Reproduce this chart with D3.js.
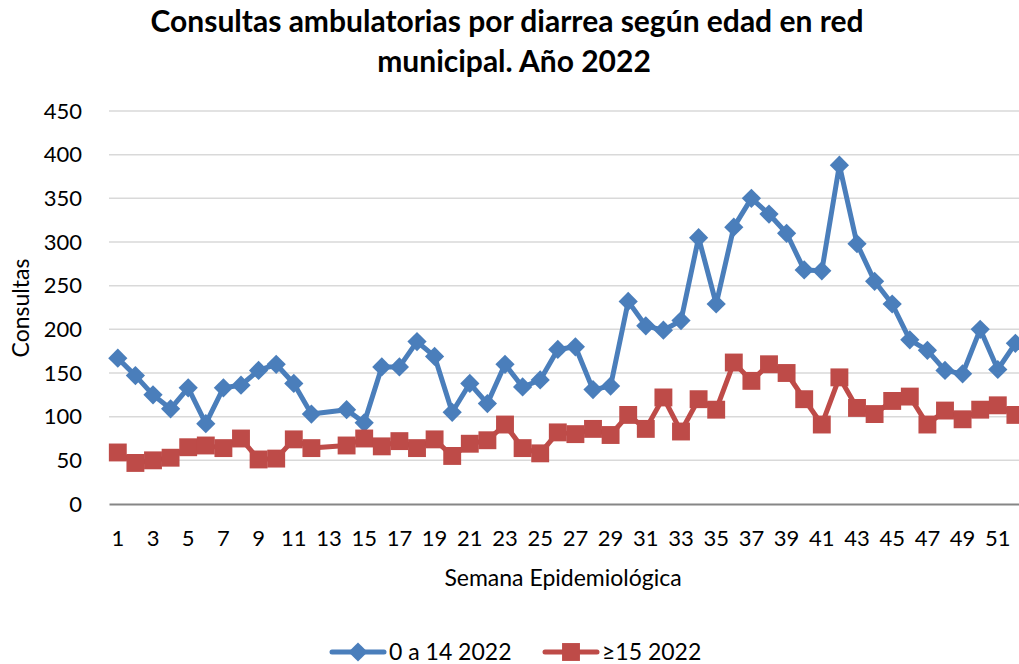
<!DOCTYPE html>
<html>
<head>
<meta charset="utf-8">
<script src="https://cdn.jsdelivr.net/npm/d3@7"></script>
<style>
  body { margin: 0; background: #fff; }
  svg { display: block; font-family: "Lato", "Open Sans", sans-serif; }
</style>
</head>
<body>
<script>
// semanas 1..52, semana 13 sin dato (la linea la salta)
var weeks = d3.range(1, 53);
var tickWeeks = weeks.filter(function (w) { return w % 2 === 1; });
var yTicks = d3.range(0, 451, 50);

var ninos = [167, 147, 125, 109, 133, 92, 133, 136, 153, 160, 138, 103, null, 108, 93, 157,
  157, 186, 169, 105, 138, 115, 160, 134, 142, 177, 180, 131, 135, 232, 204, 199, 210,
  305, 229, 317, 350, 332, 310, 268, 267, 388, 298, 255, 229, 188, 176, 153, 149, 200, 154, 184];
var adultos = [59, 47, 50, 53, 65, 67, 64, 75, 51, 52, 74, 64, null, 67, 75, 66,
  72, 64, 74, 55, 69, 73, 91, 64, 58, 82, 80, 86, 79, 102, 86, 122, 83,
  120, 108, 162, 141, 160, 150, 120, 91, 145, 110, 103, 118, 123, 91, 107, 97, 108, 113, 102];

var seriesNames = ["0 a 14 2022", "\u226515 2022"];
var colors = ["#4a7ebb", "#be4b48"];

var width = 1019;
var height = 664;
var margin = { left: 109, top: 111, bottom: 160 };
var step = 17.6;

var svg = d3.select("body").append("svg")
    .attr("width", width)
    .attr("height", height);

var x = d3.scaleBand()
    .domain(weeks)
    .range([margin.left, margin.left + step * weeks.length]);

var y = d3.scaleLinear()
    .domain([0, 450])
    .range([504, margin.top]);

// titulo
var title = svg.append("text")
    .attr("text-anchor", "middle")
    .attr("font-weight", "bold")
    .attr("font-size", 30)
    .attr("fill", "#000");
title.append("tspan").attr("x", 507).attr("y", 32)
    .text("Consultas ambulatorias por diarrea según edad en red");
title.append("tspan").attr("x", 514).attr("y", 72)
    .text("municipal. Año 2022");

// grilla
svg.append("g").selectAll("line")
    .data(yTicks.filter(function (d) { return d > 0; }))
    .enter().append("line")
    .attr("x1", margin.left)
    .attr("x2", width)
    .attr("y1", function (d) { return y(d); })
    .attr("y2", function (d) { return y(d); })
    .attr("stroke", "#d9d9d9")
    .attr("stroke-width", 1.5);

// eje y
var yAxis = svg.append("g")
    .attr("transform", `translate(${margin.left} 0)`)
    .call(d3.axisLeft(y).tickValues(yTicks).tickSize(0).tickPadding(27));
yAxis.select(".domain").remove();
yAxis.selectAll("text")
    .attr("font-size", 22)
    .attr("font-family", "Lato, sans-serif")
    .attr("fill", "#000");

// eje x
var xAxis = svg.append("g")
    .attr("transform", `translate(0 ${y(0)})`)
    .call(d3.axisBottom(x).tickValues(tickWeeks).tickSize(0).tickPadding(26));
xAxis.select(".domain")
    .attr("stroke", "#868686")
    .attr("stroke-width", 1.8);
xAxis.selectAll("text")
    .attr("font-size", 22)
    .attr("font-family", "Lato, sans-serif")
    .attr("fill", "#000");

svg.append("text")
    .attr("x", 563)
    .attr("y", 586)
    .attr("text-anchor", "middle")
    .attr("font-size", 23)
    .text("Semana Epidemiológica");

svg.append("text")
    .attr("transform", "translate(29 308) rotate(-90)")
    .attr("text-anchor", "middle")
    .attr("font-size", 23)
    .text("Consultas");

// series: rombo = cuadrado girado 45 grados
var series = [ninos, adultos].map(function (vals, k) {
    return {
        name: seriesNames[k],
        color: colors[k],
        rot: k === 0 ? 45 : 0,
        size: k === 0 ? 185 : 320,
        points: weeks.map(function (w, i) { return { w: w, v: vals[i] }; })
            .filter(function (p) { return p.v !== null; })
    };
});

var line = d3.line()
    .x(function (d) { return x(d.w) + x.bandwidth() / 2; })
    .y(function (d) { return y(d.v); });

var groups = svg.selectAll("g.serie")
    .data(series)
    .enter().append("g")
    .attr("class", "serie");

groups.append("path")
    .attr("d", function (d) { return line(d.points); })
    .attr("fill", "none")
    .attr("stroke", function (d) { return d.color; })
    .attr("stroke-width", 5)
    .attr("stroke-linejoin", "round");

groups.each(function (s) {
    d3.select(this).selectAll("path.mk")
        .data(s.points)
        .enter().append("path")
        .attr("class", "mk")
        .attr("d", d3.symbol().type(d3.symbolSquare).size(s.size))
        .attr("transform", function (d) {
            return `translate(${x(d.w) + x.bandwidth() / 2} ${y(d.v)}) rotate(${s.rot})`;
        })
        .attr("fill", s.color);
});

// leyenda
var legX = [330, 543];
var leg = svg.selectAll("g.leg")
    .data(series)
    .enter().append("g")
    .attr("class", "leg")
    .attr("transform", function (d, i) { return `translate(${legX[i]} 652)`; });
leg.append("line")
    .attr("x1", 2).attr("x2", 54)
    .attr("stroke", function (d) { return d.color; })
    .attr("stroke-width", 5)
    .attr("stroke-linecap", "round");
leg.append("path")
    .attr("transform", function (d) { return `translate(28 0) rotate(${d.rot})`; })
    .attr("d", function (d) { return d3.symbol().type(d3.symbolSquare).size(d.size)(); })
    .attr("fill", function (d) { return d.color; });
leg.append("text")
    .attr("x", 59)
    .attr("dy", "0.35em")
    .attr("font-size", 23)
    .text(function (d) { return d.name; });
</script>
</body>
</html>
